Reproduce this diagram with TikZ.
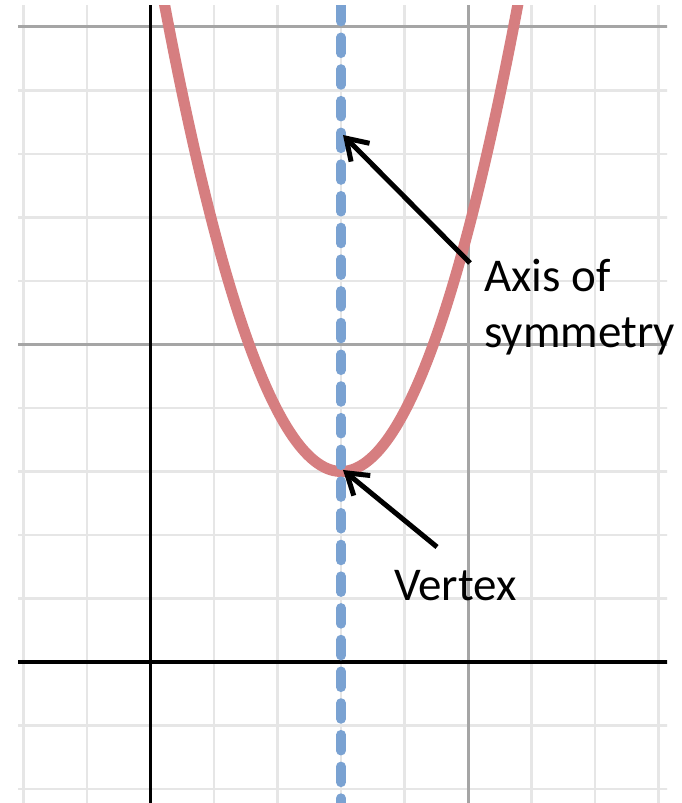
\documentclass[tikz,border=0pt]{standalone}
\usepackage{fontspec}
\setmainfont{Carlito}
\usetikzlibrary{arrows.meta}
\definecolor{minorgrid}{RGB}{230,230,230}
\definecolor{majorgrid}{RGB}{165,165,165}
\definecolor{curvered}{RGB}{214,126,128}
\definecolor{axisblue}{RGB}{122,162,210}
\tikzset{
  minorline/.style={draw=minorgrid, line width=2.5pt},
  majorline/.style={draw=majorgrid, line width=3pt},
  axisline/.style={draw=black, line width=3.5pt},
  parab/.style={draw=curvered, line width=11pt},
  symline/.style={draw=axisblue, line width=9.5pt, line cap=round, dash pattern=on 16pt off 15.7pt},
  pointer/.style={draw=black, line width=5pt, -{Straight Barb[length=20pt,width=26pt]}},
  label/.style={inner sep=0pt, anchor=base west, font=\fontsize{47}{56}\selectfont}
}
\begin{document}
\begin{tikzpicture}[x=1pt,y=1pt]
\useasboundingbox (0,0) rectangle (681,803);
\fill[white] (0,0) rectangle (681,803);
\begin{scope}
  \clip (18,0) rectangle (667,797);
  \begin{scope}[shift={(150.7,141)}, x=63.5pt, y=63.5pt]
    % minor grid
    \foreach \i in {-2,-1,1,2,3,4,6,7,8} \draw[minorline] (\i,-2.5) -- (\i,10.5);
    \foreach \j in {-2,-1,1,2,3,4,6,7,8,9} \draw[minorline] (-2.5,\j) -- (8.5,\j);
    % major grid
    \draw[majorline] (5,-2.5) -- (5,10.5);
    \draw[majorline] (-2.5,5) -- (8.5,5);
    \draw[majorline] (-2.5,10) -- (8.5,10);
    % axes
    \draw[axisline] (0,-2.5) -- (0,10.5);
    \draw[axisline] (-2.5,0) -- (8.5,0);
    % parabola
    \draw[parab] plot[domain=0.1:5.9, samples=120, smooth] (\x,{0.95*(\x-3)*(\x-3)+3});
  \end{scope}
  % axis of symmetry
  \draw[symline] (341,829.1) -- (341,-10);
\end{scope}
\coordinate (axtip) at (343,668);
\coordinate (axtail) at (470,540);
\coordinate (vxtip) at (343,333);
\coordinate (vxtail) at (437,256);
\draw[pointer] (axtail) -- (axtip);
\draw[pointer] (vxtail) -- (vxtip);
\node[label] (axis1) at (484,511) {Axis of};
\node[label] (axis2) at (484,455) {symmetry};
\node[label] (vertex) at (394,202) {Vertex};
\end{tikzpicture}
\end{document}
